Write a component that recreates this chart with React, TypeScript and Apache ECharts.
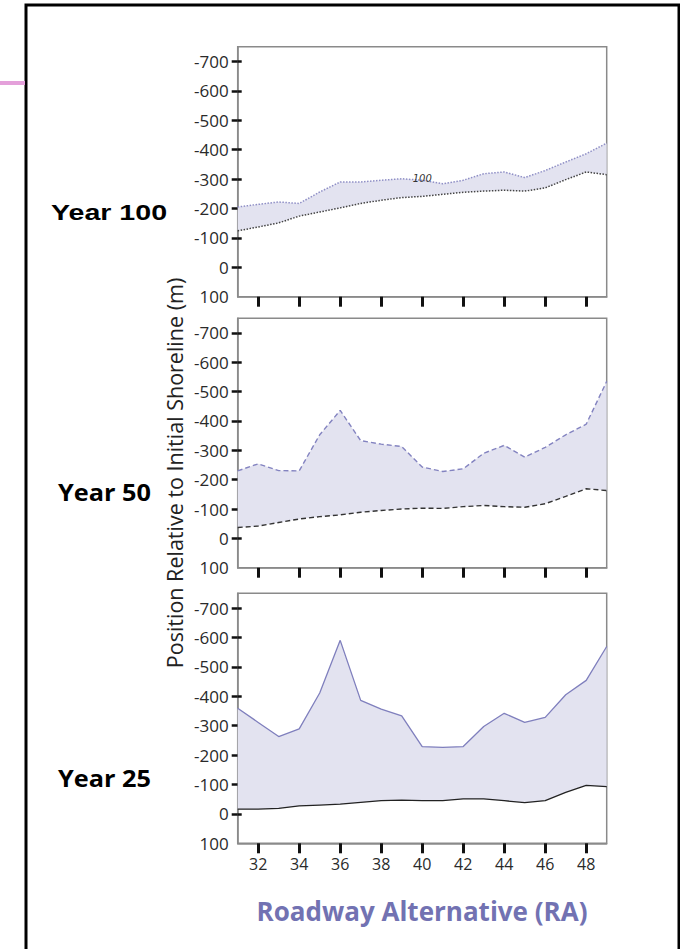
import React, { useEffect, useRef } from "react";
import * as echarts from "echarts";

// Roadway Alternative (RA) stations
const raStations = ["31", "32", "33", "34", "35", "36", "37", "38", "39", "40", "41", "42", "43", "44", "45", "46", "47", "48", "49"];

// Year 100 (dotted)
const year100Upper = [-205, -214, -222, -217, -256, -290, -290, -296, -301, -296, -284, -296, -318, -324, -305, -329, -358, -386, -422];
const year100Lower = [-124, -137, -151, -174, -188, -202, -217, -228, -237, -241, -248, -255, -259, -262, -259, -270, -298, -324, -315];

// Year 50 (dashed)
const year50Upper = [-230, -254, -231, -230, -353, -436, -333, -321, -313, -243, -228, -237, -290, -317, -277, -310, -353, -389, -535];
const year50Lower = [-37, -42, -54, -66, -74, -80, -89, -95, -100, -103, -102, -108, -112, -108, -106, -118, -143, -169, -163];

// Year 25 (solid)
const year25Upper = [-359, -311, -263, -289, -411, -590, -386, -356, -333, -229, -226, -229, -297, -342, -311, -328, -405, -454, -569];
const year25Lower = [-16, -16, -19, -27, -30, -33, -39, -45, -47, -45, -45, -51, -51, -45, -38, -45, -73, -97, -93];

const yTickLabels = [-700, -600, -500, -400, -300, -200, -100, 0, 100];
const yTickMarks = [-700, -600, -500, -400, -300, -200, -100, 0];
const xTickLabels = ["32", "34", "36", "38", "40", "42", "44", "46", "48"];

const panelTitles = ["Year 100", "Year 50", "Year 25"];
const contourLabel = "100";

export default function App() {
  const ref = useRef<HTMLDivElement>(null);

  useEffect(() => {
    if (!ref.current) return;
    const chart = echarts.init(ref.current, null, { renderer: "svg" });

    const grids = [
      { left: 237.7, top: 46.7, width: 369, height: 250 },
      { left: 237.7, top: 318.3, width: 369, height: 249.4 },
      { left: 237.7, top: 593.3, width: 369, height: 250 },
    ];
    const panels = [
      { upper: year100Upper, lower: year100Lower, type: "dotted", upColor: "#8f8fc6", lowColor: "#444", width: 1.5 },
      { upper: year50Upper, lower: year50Lower, type: [5, 3], upColor: "#8383c0", lowColor: "#333", width: 1.4 },
      { upper: year25Upper, lower: year25Lower, type: "solid", upColor: "#7f7fbd", lowColor: "#222", width: 1.3 },
    ];
    const fill = "#e3e3f0";
    const labelFont = "Open Sans";
    const isShownTick = (_i: number, v: string) => xTickLabels.indexOf(v) >= 0;

    const xAxes = grids.map((_, i) => ({
      type: "category",
      gridIndex: i,
      position: "bottom",
      data: raStations,
      boundaryGap: false,
      axisLine: { show: true, onZero: false, lineStyle: { color: "#8a8a8a", width: 1.5 } },
      axisTick: { show: true, interval: isShownTick, length: 10, lineStyle: { color: "#111", width: 3 } },
      axisLabel: {
        show: i === 2,
        interval: isShownTick,
        margin: 13,
        fontFamily: labelFont,
        fontSize: 16,
        color: "#2a2a2a",
      },
      splitLine: { show: false },
    }));

    const yMain = grids.map((_, i) => ({
      type: "value",
      gridIndex: i,
      inverse: true,
      min: -750,
      max: 100,
      position: "left",
      axisLine: { show: true, onZero: false, lineStyle: { color: "#8a8a8a", width: 1.5 } },
      axisTick: { show: true, customValues: yTickMarks, length: 6, lineStyle: { color: "#111", width: 2.5 } },
      axisLabel: {
        show: true,
        customValues: yTickLabels,
        margin: 9,
        fontFamily: labelFont,
        fontSize: 17,
        color: "#2a2a2a",
        formatter: (v: number) => String(v),
      },
      splitLine: { show: false },
    }));
    const yInner = grids.map((_, i) => ({
      type: "value",
      gridIndex: i,
      inverse: true,
      min: -750,
      max: 100,
      position: "left",
      axisLine: { show: false, onZero: false },
      axisTick: { show: true, inside: true, customValues: yTickMarks, length: 4, lineStyle: { color: "#111", width: 2.5 } },
      axisLabel: { show: false },
      splitLine: { show: false },
    }));

    const series: any[] = [];
    panels.forEach((p, i) => {
      series.push({
        type: "line",
        name: `band${i}`,
        xAxisIndex: i,
        yAxisIndex: i,
        stack: `s${i}`,
        data: p.lower,
        symbol: "none",
        lineStyle: { opacity: 0 },
        silent: true,
        z: 1,
      });
      series.push({
        type: "line",
        name: `upper${i}`,
        xAxisIndex: i,
        yAxisIndex: i,
        stack: `s${i}`,
        data: p.upper.map((u, k) => {
          const d = u - p.lower[k];
          if (i === 0 && raStations[k] === "40") {
            return {
              value: d,
              symbol: "circle",
              symbolSize: 1,
              itemStyle: { color: "rgba(0,0,0,0)", borderWidth: 0 },
              label: {
                show: true,
                formatter: contourLabel,
                position: "top",
                distance: -4,
                fontStyle: "italic",
                fontSize: 10,
                fontFamily: "DejaVu Sans",
                color: "#333",
              },
            };
          }
          return d;
        }),
        symbol: "none",
        areaStyle: { color: fill, opacity: 1 },
        lineStyle: { color: p.upColor, type: p.type, width: p.width },
        z: 2,
      });
      series.push({
        type: "line",
        name: `lower${i}`,
        xAxisIndex: i,
        yAxisIndex: i,
        data: p.lower,
        symbol: "none",
        lineStyle: { color: p.lowColor, type: p.type, width: p.width },
        z: 3,
      });
    });

    const option: any = {
      animation: false,
      backgroundColor: "#fff",
      grid: grids.map((g) => ({ ...g, show: true, borderColor: "#8a8a8a", borderWidth: 1.5, backgroundColor: "transparent" })),
      xAxis: xAxes,
      yAxis: [...yMain, ...yInner],
      series,
      graphic: [
        { type: "rect", shape: { x: 26, y: 5, width: 653, height: 1000 }, style: { fill: "none", stroke: "#000", lineWidth: 3 }, silent: true },
        { type: "line", shape: { x1: 0, y1: 83, x2: 25, y2: 83 }, style: { stroke: "#e4a0da", lineWidth: 4 }, silent: true },
        {
          type: "text",
          x: 51,
          y: 212,
          scaleX: 1.3,
          style: { text: panelTitles[0], font: "bold 22px 'Liberation Sans'", fill: "#000", textAlign: "left", textVerticalAlign: "middle" },
        },
        {
          type: "text",
          x: 58,
          y: 492,
          scaleX: 1.1,
          style: { text: panelTitles[1], font: "bold 23px 'Open Sans'", fill: "#000", textAlign: "left", textVerticalAlign: "middle" },
        },
        {
          type: "text",
          x: 58,
          y: 778,
          scaleX: 1.1,
          style: { text: panelTitles[2], font: "bold 23px 'Open Sans'", fill: "#000", textAlign: "left", textVerticalAlign: "middle" },
        },
        {
          type: "text",
          x: 174,
          y: 473,
          rotation: Math.PI / 2,
          style: {
            text: "Position Relative to Initial Shoreline (m)",
            font: "21.5px 'Open Sans'",
            fill: "#222",
            textAlign: "center",
            textVerticalAlign: "middle",
          },
        },
        {
          type: "text",
          x: 422,
          y: 911,
          style: {
            text: "Roadway Alternative (RA)",
            font: "bold 26px 'Open Sans'",
            fill: "#7272b2",
            textAlign: "center",
            textVerticalAlign: "middle",
          },
        },
      ],
    };

    chart.setOption(option);
    return () => chart.dispose();
  }, []);

  return <div ref={ref} style={{ position: "fixed", left: 0, top: 0, width: 680, height: 949 }} />;
}
